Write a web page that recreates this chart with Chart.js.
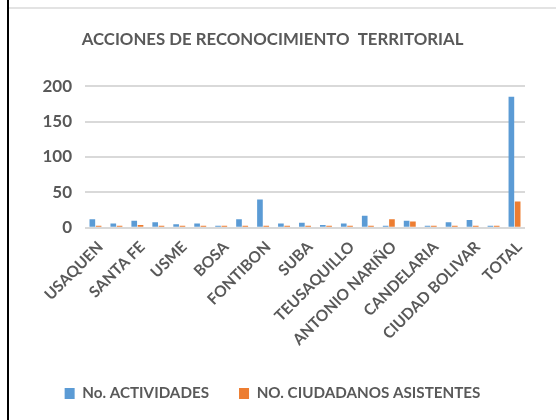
<!DOCTYPE html>
<html>
<head>
<meta charset="utf-8">
<script src="https://cdn.jsdelivr.net/npm/chart.js@4/dist/chart.umd.min.js"></script>
<style>
  html, body { margin: 0; padding: 0; background: #fff; }
  #wrap { position: relative; width: 556px; height: 420px; overflow: hidden; }
  #edge { position: absolute; left: 7px; top: 0; width: 2px; height: 420px; background: #000; }
  #topline { position: absolute; left: 9px; top: 7px; width: 547px; height: 2px; background: #e3e3e3; }
  canvas { position: absolute; left: 0; top: 0; }
</style>
</head>
<body>
<div id="wrap">
  <canvas id="c" width="556" height="420"></canvas>
  <div id="edge"></div>
  <div id="topline"></div>
</div>
<script>
const categories = ["USAQUEN","CHAPINERO","SANTA FE","SAN CRISTOBAL","USME","TUNJUELITO","BOSA","KENNEDY","FONTIBON","ENGATIVA","SUBA","BARRIOS UNIDOS","TEUSAQUILLO","LOS MARTIRES","ANTONIO NARIÑO","PUENTE ARANDA","CANDELARIA","RAFAEL URIBE URIBE","CIUDAD BOLIVAR","SUMAPAZ","TOTAL"];
const actividades = [12, 6, 10, 8, 5, 6, 2, 12, 40, 6, 7, 4, 6, 17, 3, 10, 2, 8, 11, 1, 185];
const ciudadanos = [2, 2, 4, 2, 2, 2, 2, 2, 2, 2, 2, 2, 2, 3, 12, 9, 2, 2, 3, 2, 37];
const yTicks = [0, 50, 100, 150, 200];
const seriesNames = ["No. ACTIVIDADES", "NO. CIUDADANOS ASISTENTES"];
const titleText = "ACCIONES DE RECONOCIMIENTO  TERRITORIAL";

const fontFam = "Lato, 'Open Sans', sans-serif";
const gray = "#595959";

new Chart(document.getElementById("c"), {
  type: "bar",
  data: {
    labels: categories,
    datasets: [
      { label: seriesNames[0], data: actividades, backgroundColor: "#5B9BD5", borderWidth: 0, minBarLength: 2, categoryPercentage: 0.6, barPercentage: 0.9 },
      { label: seriesNames[1], data: ciudadanos, backgroundColor: "#ED7D31", borderWidth: 0, minBarLength: 2, categoryPercentage: 0.6, barPercentage: 0.9 }
    ]
  },
  options: {
    responsive: false,
    animation: false,
    devicePixelRatio: 1,
    layout: { padding: { left: 20, right: 31, top: 24, bottom: 9 } },
    plugins: {
      title: {
        display: true, text: titleText, color: gray,
        font: { family: fontFam, size: 16.8, weight: "bold" },
        padding: { top: 6, bottom: 36 }
      },
      legend: {
        position: "bottom",
        labels: {
          color: gray, boxWidth: 10, boxHeight: 11, padding: 30,
          font: { family: fontFam, size: 15.2, weight: "bold" }
        }
      },
      tooltip: { enabled: false }
    },
    scales: {
      x: {
        grid: { display: false },
        border: { display: false },
        afterFit: function(s) { s.height = 128; },
        ticks: {
          autoSkip: false, maxRotation: 45, minRotation: 45, padding: 2, labelOffset: 5,
          color: gray, font: { family: fontFam, size: 15.5, weight: "bold" },
          callback: function(v, i) { return i % 2 === 0 ? categories[i] : ""; }
        }
      },
      y: {
        min: 0, max: 200,
        afterFit: function(s) { s.width = 65; },
        afterBuildTicks: function(ax) { ax.ticks = yTicks.map(v => ({ value: v })); },
        grid: { color: "#d9d9d9", lineWidth: 2, drawTicks: false },
        border: { display: false },
        ticks: { color: gray, padding: 13, font: { family: fontFam, size: 17, weight: "bold" } }
      }
    }
  }
});
</script>
</body>
</html>
